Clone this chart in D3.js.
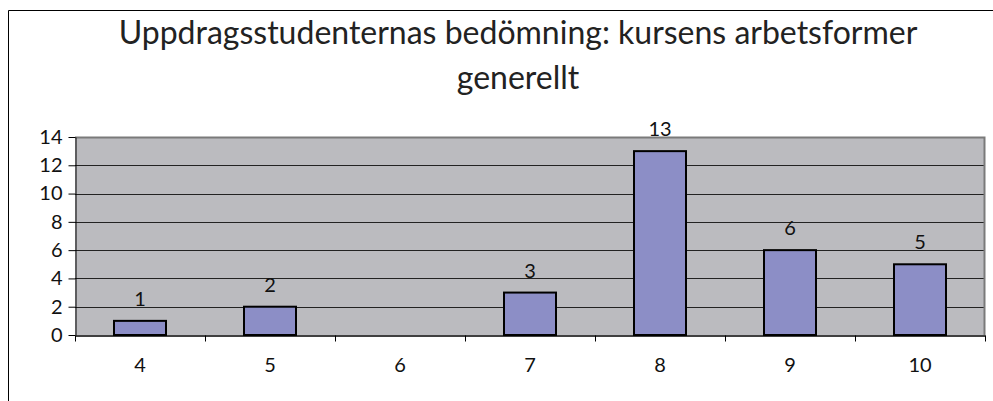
<!DOCTYPE html>
<html>
<head>
<meta charset="utf-8">
<title>Uppdragsstudenternas bedömning</title>
<script src="https://d3js.org/d3.v7.min.js"></script>
<style>
  body { margin: 0; background: #fff; }
  text { font-family: "Lato", "Open Sans", sans-serif; fill: #111; }
</style>
</head>
<body>
<svg id="chart"></svg>
<script>
// data
var categories = ["4", "5", "6", "7", "8", "9", "10"];
var counts = [1, 2, 0, 3, 13, 6, 5];
var yTicks = [0, 2, 4, 6, 8, 10, 12, 14];
var titleLines = ["Uppdragsstudenternas bedömning: kursens arbetsformer", "generellt"];

var W = 993, H = 401;
var plot = {left: 75, right: 985, top: 137, bottom: 335};

var svg = d3.select("#chart").attr("width", W).attr("height", H);

// outer chart frame (only top and left visible)
svg.append("path")
  .attr("d", "M8.5," + H + "V10.5H" + W)
  .attr("fill", "none").attr("stroke", "#000").attr("stroke-width", 1);

// title
svg.selectAll(".title").data(titleLines).enter().append("text")
  .attr("class", "title")
  .attr("x", 518)
  .attr("y", function(d, i) { return 44 + i * 45; })
  .attr("text-anchor", "middle")
  .style("font-size", "32px")
  .style("fill", "#222")
  .text(function(d) { return d; });

var x = d3.scaleBand().domain(categories).range([plot.left, plot.right]).paddingInner(0).paddingOuter(0);
var y = d3.scaleLinear().domain([0, 14]).range([plot.bottom, plot.top]);

// plot area
svg.append("rect")
  .attr("x", plot.left).attr("y", plot.top)
  .attr("width", plot.right - plot.left).attr("height", plot.bottom - plot.top)
  .attr("fill", "#BBBBBF");

// gridlines
svg.selectAll(".grid").data(yTicks.slice(1, -1)).enter().append("line")
  .attr("x1", plot.left).attr("x2", plot.right)
  .attr("y1", function(d) { return Math.round(y(d)) + 0.5; })
  .attr("y2", function(d) { return Math.round(y(d)) + 0.5; })
  .attr("stroke", "#222").attr("stroke-width", 1);

// plot border top/right in gray
svg.append("path")
  .attr("d", "M" + plot.left + "," + (plot.top + 0.5) + "H" + (plot.right - 0.5) + "V" + plot.bottom)
  .attr("fill", "none").attr("stroke", "#7a7a7a").attr("stroke-width", 2);

// bars
var bw = x.bandwidth() * 0.4;
svg.selectAll(".bar").data(counts).enter().append("rect")
  .attr("class", "bar")
  .attr("x", function(d, i) { return x(categories[i]) + (x.bandwidth() - bw) / 2; })
  .attr("y", function(d) { return y(d); })
  .attr("width", bw)
  .attr("height", function(d) { return y(0) - y(d); })
  .attr("fill", "#8C8EC6")
  .attr("stroke", "#000").attr("stroke-width", 2)
  .style("display", function(d) { return d > 0 ? null : "none"; });

// value labels
svg.selectAll(".lbl").data(counts).enter().append("text")
  .filter(function(d) { return d > 0; })
  .attr("x", function(d) { return x(categories[counts.indexOf(d)]) + x.bandwidth() / 2; })
  .attr("y", function(d) { return y(d) - 15; })
  .attr("text-anchor", "middle")
  .style("font-size", "20px")
  .text(function(d) { return d; });

// y axis
var yAxis = svg.append("g")
  .attr("transform", "translate(" + (plot.left + 0.5) + ",0)")
  .call(d3.axisLeft(y).tickValues(yTicks).tickSize(7).tickSizeOuter(0).tickPadding(6));
yAxis.selectAll("text").style("font-size", "20px").style("font-family", "Lato, sans-serif").attr("fill", "#111");
yAxis.selectAll("line, path").attr("stroke", "#000");

// x axis
var xAxis = svg.append("g")
  .attr("transform", "translate(0," + (plot.bottom + 0.5) + ")")
  .call(d3.axisBottom(x).tickSize(0).tickPadding(22).tickSizeOuter(0));
xAxis.selectAll("text").style("font-size", "20px").style("font-family", "Lato, sans-serif").attr("fill", "#111");
xAxis.select(".domain").attr("stroke", "#000").attr("stroke-width", 1.5);
// category boundary ticks
var bounds = categories.map(function(c) { return x(c); }).concat([plot.right]);
xAxis.selectAll(".bt").data(bounds).enter().append("line")
  .attr("x1", function(d) { return Math.round(d) + 0.5; })
  .attr("x2", function(d) { return Math.round(d) + 0.5; })
  .attr("y1", 0).attr("y2", 6)
  .attr("stroke", "#000");
</script>
</body>
</html>
